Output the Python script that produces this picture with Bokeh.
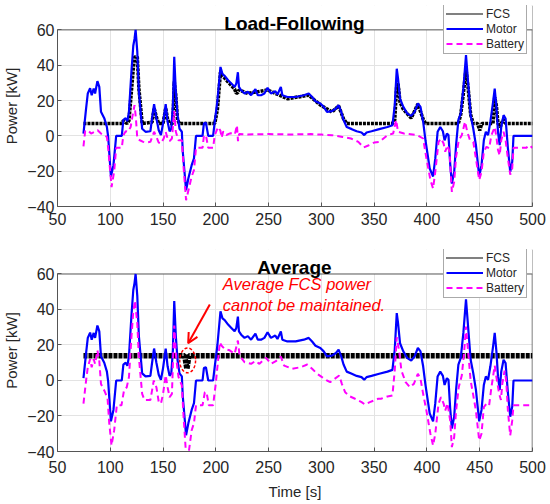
from bokeh.plotting import figure
from bokeh.layouts import column
from bokeh.models import (Legend, LegendItem, Label, Arrow, OpenHead, FixedTicker,
                          BoxAnnotation, Span)
from bokeh.embed import file_html
from bokeh.resources import INLINE

# ---------------- data ----------------
t_motor = [74.6, 77.1, 78.7, 80.9, 82.4, 84.3, 85.6, 87.8, 89.6, 91.2, 94.3, 96.8, 98.0, 100.6, 103.0,
           105.6, 110.9, 112.4, 114.6, 116.2, 117.7, 120.0, 121.8, 123.0, 124.0, 125.6, 127.1, 130.2,
           133.4, 138.0, 139.6, 141.5, 143.7, 145.9, 148.0, 150.0, 152.5, 154.3, 156.2, 157.8, 159.3,
           160.6, 162.1, 163.7, 165.6, 167.8, 168.7, 171.8, 174.0, 177.1, 179.3, 181.2, 187.4, 188.7,
           190.6, 192.8, 197.4, 199.0, 201.5, 204.4, 206.3, 208.4, 211.6, 214.7, 217.8, 219.4, 220.9,
           221.9, 224.0, 227.2, 230.3, 233.4, 237.5, 239.7, 242.8, 246.0, 249.0, 252.2, 256.3, 258.4,
           261.6, 263.0, 267.8, 275.6, 283.4, 288.0, 291.2, 294.4, 299.0, 302.2, 305.3, 310.0, 313.8,
           316.3, 318.8, 321.0, 324.0, 328.8, 333.4, 338.0, 340.6, 342.8, 347.5, 354.8, 362.6, 367.3,
           369.5, 371.4, 372.6, 374.5, 377.6, 381.4, 385.1, 388.3, 391.4, 393.9, 396.4, 398.6, 402.6,
           405.8, 407.9, 410.1, 412.6, 415.1, 416.7, 418.9, 420.4, 422.0, 423.6, 425.8, 427.6, 429.8,
           432.0, 434.5, 437.0, 439.2, 441.4, 443.9, 446.4, 449.5, 451.7, 453.9, 455.8, 457.9, 460.1,
           462.6, 464.2, 465.8, 467.3, 468.9, 470.4, 472.6, 474.5, 476.7, 478.9, 480.8, 482.0, 500.0]
motor = [1.3, 15.5, 24, 27, 23, 26.8, 24, 31, 27.7, 13.6, 10, 5, -0.5, -23, -16.6,
         0, 0, 9, 10, 8.3, 13.6, 36, 51, 55, 60, 47.5, 25, 4,
         2.3, 2.6, 10, 18, 10, 3.2, 0.4, 7, 18, 8, 2.6, 4, 17,
         44.7, 25, 11.7, 4, 2.3, -9, -30.8, -24, -16.6, -12.8, 0, 0, 7,
         7.5, 0, 0, 8, 20, 39, 35, 34, 31.5, 29.6, 27.7, 29.6, 36,
         27.7, 25.8, 24, 25, 23, 26.4, 23, 23, 24, 27.2, 24, 25.3, 23.4,
         27.7, 23, 22, 22, 23, 24, 22, 19.6, 18.3, 16.4, 13.6, 14, 15.5,
         17.4, 13.6, 9, 5, 3.8, 2.6, 1.9, 0.4, 1.9, 2.6, 3.8, 5, 6,
         17.4, 38, 32.5, 21, 16.4, 12.6, 11.3, 13.6, 18.3, 16.4, 8, -2.5, -18.5,
         -23, -12.8, 2.3, 5, 2.6, -2.5, 1.3, 0.4, -15.7, -27, -20.4, -5.3, 9,
         12.6, 26.8, 45.7, 28.7, 11.7, 4, -5.3, -23, -16.6, -2.5, 2.3, 0.4, 8,
         19, 26.8, 16.4, 2.3, -5.3, 5, 11.7, 9.8, -7, -20.4, -14.7, 0, 0]

# Load-Following battery
t_bat_lf = [74.6, 76.2, 78.7, 81.8, 85.0, 88.0, 91.2, 94.3, 96.8, 98.0, 101.2, 103.7, 105.6, 110.9,
            112.4, 114.6, 116.8, 119.3, 120.9, 123.0, 124.3, 125.6, 128.0, 131.2, 133.4, 138.0, 141.5,
            143.7, 145.9, 148.0, 150.6, 152.5, 154.3, 156.2, 158.4, 160.6, 162.1, 164.6, 167.8, 169.3,
            171.8, 174.0, 177.1, 179.3, 181.2, 187.4, 188.7, 190.6, 192.8, 197.4, 199.0, 202.1, 204.3,
            205.5, 207.0, 210.0, 214.0, 218.0, 220.0, 221.0, 222.0, 230.0, 250.0, 270.0, 290.0, 300.0,
            310.0, 320.0, 328.0, 335.0, 340.0, 345.0, 350.0, 355.0, 362.6, 368.0, 370.8, 372.6, 378.3,
            390.8, 396.4, 399.5, 403.3, 405.8, 407.9, 411.0, 413.3, 415.8, 417.3, 419.5, 421.4, 423.6,
            425.8, 427.6, 430.1, 433.0, 436.1, 438.2, 440.8, 443.9, 446.4, 449.5, 451.7, 453.9, 456.4,
            458.9, 461.1, 464.2, 465.8, 467.3, 468.9, 470.4, 472.6, 474.5, 476.7, 478.9, 480.8, 482.0,
            494.0, 497.0, 500.0]
bat_lf = [-6, 2.6, 3.2, 1.3, 2.3, 3.2, 1.3, 0.4, -0.6, -7, -29, -20, -6.8, -6.8,
          0.4, 2.6, 2.3, 5, 10.7, 17.4, 9.8, -1.5, -2.5, -3.4, -3.8, -3.4, 2.3,
          -0.6, -3.8, -4.3, -1.5, 2.3, -1.5, -3, -1.5, 14, 2.3, -2.5, -2.5, -16.6,
          -36.4, -31, -23, -19.4, -6.8, -6.8, 0, 0.4, -6.8, -6.8, 0.4, 5, 3,
          -1, 2.5, 0.5, 1.5, 0.8, 6, -3, 1, 0.8, 1.0, 0.8, 1.0, 0.7,
          0.4, -0.6, -1.5, -3.4, -6.6, -5.3, -3.8, -3.4, 0.4, 1.3, 9, 2.3, 1.3,
          0.4, -1.5, -12.8, -25, -29.8, -20.4, -3.4, -1.5, -4.3, -9, -5.3, -9, -31.7,
          -26, -11.9, -2.5, 0.4, 8, 2.3, -2.5, -3.4, -12.8, -25, -20.4, -9, -6.2,
          -7, 0.4, 5, -0.6, -8, -11, -2.5, 2.3, -2.5, -12.8, -22, -18.5, -6.8,
          -6.8, -5.3, -6.8]

# Load-Following FCS
t_fcs_lf = [74.6, 110.9, 112.4, 114.6, 116.2, 117.7, 120.0, 121.8, 123.0, 125.6, 127.1, 130.2,
            139.6, 141.5, 143.7, 145.9, 150.0, 152.5, 154.3, 156.2, 159.3, 160.6, 162.1, 163.7,
            165.6, 199.0, 201.5, 204.4, 206.3, 211.6, 217.8, 219.4, 220.9, 221.9, 230.3, 249.0,
            267.8, 288.0, 299.0, 310.0, 316.3, 321.0, 324.0, 367.3, 369.5, 371.4, 372.6, 374.5,
            377.6, 385.1, 391.4, 396.4, 398.6, 429.8, 432.0, 434.5, 437.0, 439.2, 441.4, 443.9,
            448.0, 450.0, 452.0, 462.6, 464.2, 465.8, 467.3, 469.5, 470.5, 472.6, 474.5, 500.0]
fcs_lf = [7, 7, 8.6, 7.4, 7, 8.6, 25, 38, 44.7, 44.7, 27, 7,
          7.7, 15.7, 10.6, 7, 7, 15.7, 9.5, 7, 7, 30.7, 22.7, 9,
          7, 7, 15, 36, 34, 30.5, 26.5, 24, 24.5, 26, 24, 26,
          21, 23, 17.5, 13.5, 17, 9.6, 7, 7, 9, 29, 30, 19,
          15, 10, 18, 9.5, 7, 7, 12, 24, 37.7, 26, 12, 7,
          7, 3, 7, 7, 21.8, 17, 7, 5, 7, 9.4, 7, 7]

# Average battery
t_bat_avg = [74.6, 77.1, 78.7, 80.9, 82.4, 84.3, 85.6, 87.8, 89.6, 91.2, 94.3, 97.4, 99.0, 101.2,
             103.7, 106.2, 110.6, 113.0, 115.6, 117.7, 120.0, 121.8, 123.4, 125.6, 127.1, 130.2,
             132.4, 138.0, 141.2, 143.7, 145.9, 148.0, 150.0, 152.5, 154.3, 156.2, 158.4, 160.6,
             162.4, 164.6, 167.8, 169.3, 171.8, 174.0, 177.1, 179.3, 181.2, 187.4, 189.6, 191.2,
             193.4, 197.4, 199.9, 203.8, 205.3, 208.4, 213.1, 217.8, 220.9, 222.5, 227.2, 233.4,
             237.5, 241.3, 247.5, 252.2, 256.9, 261.6, 264.7, 272.5, 280.3, 286.6, 291.2, 296.0,
             300.6, 305.3, 308.4, 312.5, 316.9, 319.4, 322.5, 327.2, 331.9, 338.1, 341.3, 345.9,
             353.8, 356.4, 362.6, 367.3, 369.5, 371.4, 373.6, 375.8, 379.8, 383.9, 387.6, 391.4,
             393.9, 396.4, 399.5, 403.3, 405.8, 407.9, 411.0, 413.3, 415.8, 417.3, 419.5, 422.0,
             423.6, 425.8, 427.6, 430.1, 433.0, 435.1, 437.0, 439.2, 441.4, 443.9, 446.4, 449.5,
             451.7, 453.9, 456.4, 458.9, 461.1, 464.2, 465.8, 468.4, 470.1, 471.4, 473.6, 475.1,
             476.7, 478.9, 480.8, 482.0, 500.0]
bat_avg = [-13, 0, 7.5, 12, 7.5, 12, 9.4, 17, 11, -2, -5.6, -10, -24, -36.6,
           -28, -14, -14, -5.6, -3.8, 2, 24, 39, 45, 32, 13, -7.5,
           -11, -11, 0, -3.8, -12, -13, -7.5, 3, -3.8, -9.4, -7.5, 31,
           13, 2, -2.8, -19, -42, -42, -28, -24, -14, -14, -6.6, -6.6,
           -14, -14, -2, 21.6, 19.7, 17.8, 17, 15, 22.5, 14, 10.3, 9.4,
           11, 9.4, 12.8, 9.4, 10.9, 13.5, 8.4, 6.6, 7.5, 9, 6.6, 3.8,
           1.9, 0, -0.9, 0.9, 2.8, -1.9, -6.6, -9, -10.3, -12.2, -13.5, -12.2,
           -10.3, -10.3, -9, -8.4, 5.6, 24.4, 17, 5.6, -0.9, -3.8, -1.9, 3.8,
           0.9, -7.5, -17, -30, -36.6, -30, -13, -9.4, -13, -17, -12.8, -22.5,
           -37.5, -32, -17, -3.8, 2.8, 15, 30.4, 15, 0, -8.4, -17, -33.8,
           -30, -15, -13, -14, -3.8, 8.4, 1.9, -7.5, -11, -1.9, 5.6, 0,
           -17, -31, -22.5, -14, -14]

# Average FCS
t_fcs_avg = [74.6, 170.5, 172.6, 174.5, 500.0]
fcs_avg = [14, 14, 6.5, 14, 14]

titles = ["Load-Following", "Average"]
x_ticks = [50, 100, 150, 200, 250, 300, 350, 400, 450, 500]
y_ticks = [-40, -20, 0, 20, 40, 60]
y_tick_text = {-40: "\u221240", -20: "\u221220"}
X_LO, X_HI = 50, 500
Y_LO, Y_HI = -40, 60
NAN = float("nan")

FONT = "Liberation Sans"
AX = "#555555"


def style_axis(ax):
    ax.major_tick_in = 4
    ax.major_tick_out = 0
    ax.minor_tick_line_color = None
    ax.axis_line_color = AX
    ax.major_tick_line_color = AX
    ax.major_label_text_font = FONT
    ax.major_label_text_font_size = "16px"
    ax.major_label_text_color = "#262626"
    ax.axis_label_text_font = FONT
    ax.axis_label_text_font_size = "15px"
    ax.axis_label_text_font_style = "normal"
    ax.axis_label_text_color = "#262626"


def make_fig(title, height, top, bottom, y_top, title_y, xlabel, xstand):
    p = figure(width=550, height=height, x_range=(X_LO, X_HI), y_range=(Y_LO, y_top),
               output_backend="svg", toolbar_location=None, title=None,
               min_border_left=55, min_border_right=18,
               min_border_top=top, min_border_bottom=bottom)
    p.outline_line_color = None
    p.xaxis.ticker = FixedTicker(ticks=x_ticks)
    p.yaxis.ticker = FixedTicker(ticks=y_ticks)
    p.yaxis.major_label_overrides = y_tick_text
    p.yaxis.bounds = (Y_LO, Y_HI)
    style_axis(p.xaxis[0])
    style_axis(p.yaxis[0])
    p.xaxis.major_label_standoff = xstand
    p.yaxis.major_label_standoff = 3
    p.yaxis.axis_label = "Power [kW]"
    p.yaxis.axis_label_standoff = 4
    if xlabel:
        p.xaxis.axis_label = xlabel
        p.xaxis.axis_label_standoff = 7
    p.grid.grid_line_color = "#e3e3e3"
    p.grid.grid_line_width = 1
    # right side of the axes box, then blank the area above the box (title + legend live there)
    p.add_layout(Span(location=X_HI, dimension="height", line_color=AX, line_width=1.5,
                      level="underlay"))
    p.add_layout(BoxAnnotation(bottom=Y_HI, fill_color="white", fill_alpha=1,
                               line_color=None, level="underlay"))
    p.add_layout(Span(location=Y_HI, dimension="width", line_color=AX, line_width=1,
                      level="underlay"))
    p.add_layout(Label(x=274.5, y=title_y, text=title, text_font=FONT, text_font_size="19px",
                       text_font_style="bold", text_color="black", text_align="center",
                       text_baseline="alphabetic"))
    return p


def add_series(p, tf, f, fw, fdash, tb, b, leg_y):
    p.line(tf, f, line_color="black", line_width=fw, line_dash=fdash)
    r_mot = p.line(t_motor, motor, line_color="#0000ff", line_width=2.2)
    r_bat = p.line(tb, b, line_color="#ff00ff", line_width=2, line_dash="6 4")
    r_fcs_key = p.line([NAN, NAN], [NAN, NAN], line_color="black", line_width=2, line_dash="1 1")
    leg = Legend(items=[LegendItem(label="FCS", renderers=[r_fcs_key]),
                        LegendItem(label="Motor", renderers=[r_mot]),
                        LegendItem(label="Battery", renderers=[r_bat])],
                 location=(386, leg_y))
    leg.label_text_font = FONT
    leg.label_text_font_size = "12px"
    leg.label_text_color = "#262626"
    leg.glyph_width = 37
    leg.glyph_height = 15
    leg.label_height = 15
    leg.label_standoff = 3
    leg.spacing = 0
    leg.padding = 2
    leg.margin = 0
    leg.border_line_color = AX
    leg.border_line_width = 1
    leg.background_fill_alpha = 1
    p.add_layout(leg, "center")


# top figure: page y 0..246, frame 5..206
p1 = make_fig(titles[0], 246, 5, 40, 73.8, 63.8, None, 6)
add_series(p1, t_fcs_lf, fcs_lf, 3.5, "3 1", t_bat_lf, bat_lf, 152)

# bottom figure: page y 246..504, frame 249..451
p2 = make_fig(titles[1], 258, 3, 53, 73.8, 63.8, "Time [s]", 9)
add_series(p2, t_fcs_avg, fcs_avg, 5.5, "4 1", t_bat_avg, bat_avg, 153)

# annotation on the Average plot
note_x = 206.6
note_lines = [("Average FCS power", 54.1), ("cannot be maintained.", 42.3)]
for txt, yy in note_lines:
    p2.add_layout(Label(x=note_x, y=yy, text=txt, text_color="red", text_font=FONT,
                        text_font_size="16.5px", text_font_style="italic",
                        text_baseline="middle", text_align="left"))
arrow_from = (194.3, 42.8)
arrow_to = (173.8, 21.0)
p2.add_layout(Arrow(x_start=arrow_from[0], y_start=arrow_from[1], x_end=arrow_to[0], y_end=arrow_to[1],
                    line_color="red", line_width=2,
                    end=OpenHead(size=10, line_color="red", line_width=2)))
ell_c = (173.3, 11.3)
p2.ellipse(x=[ell_c[0]], y=[ell_c[1]], width=[15], height=[14], fill_alpha=0,
           line_color="red", line_width=1.5, line_dash="3 2")

layout = column(p1, p2, spacing=0)
open("out.html", "w").write(file_html(layout, INLINE))
